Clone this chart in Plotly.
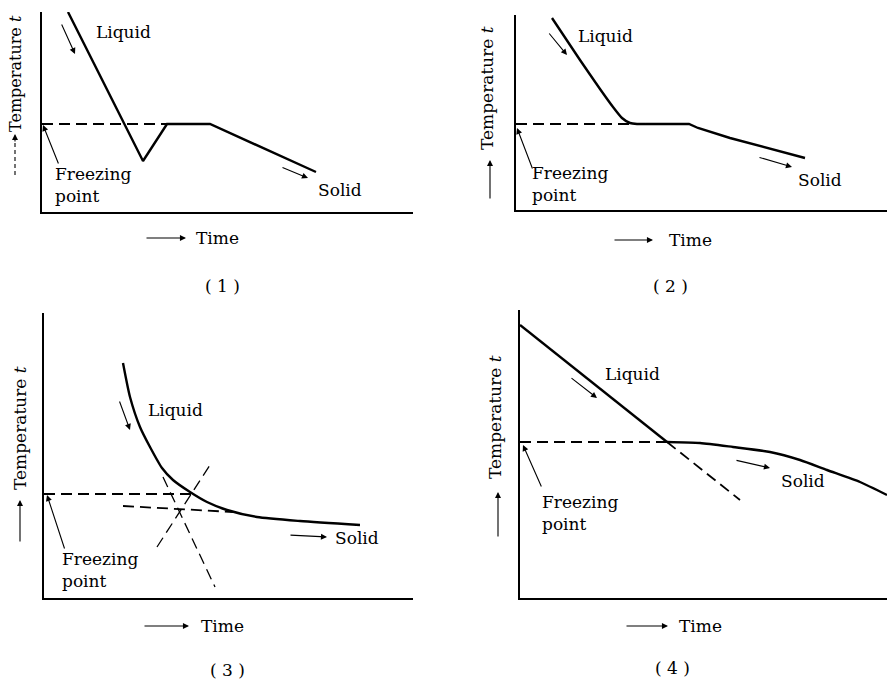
import plotly.graph_objects as go

W, H = 887, 679
FONT = dict(family="DejaVu Serif", size=17, color="black")

# ---------------- data (time, temperature in arbitrary units) ----------------
# Panel 1: supercooling then plateau
p1_time = [2.6, 10.1, 12.5, 16.8, 27.4]
p1_temp = [20.0, 5.1, 8.8, 8.8, 4.0]
p1_fp_time = [0, 12.5]
p1_fp_temp = [8.8, 8.8]

# Panel 2: smooth approach to plateau
p2_liq_time = [3.6, 6.4, 8.4, 9.7, 10.6, 11.4, 12.1, 13.0]
p2_liq_temp = [19.2, 15.0, 12.1, 10.3, 9.2, 8.7, 8.6, 8.6]
p2_sol_time = [13.0, 17.3, 18.2, 21.4, 28.9]
p2_sol_temp = [8.6, 8.6, 8.2, 7.2, 5.2]
p2_fp_time = [0, 12.0]
p2_fp_temp = [8.6, 8.6]

# Panel 3: curved cooling with tangent construction
p3_time = [7.9, 8.6, 9.6, 10.6, 11.8, 12.9, 14.6, 16.3, 18.3, 21.3, 25.6, 31.6]
p3_temp = [23.5, 20.1, 17.1, 15.1, 13.0, 11.8, 10.6, 9.6, 8.8, 8.1, 7.7, 7.3]
p3_fp_time = [0, 14.8]
p3_fp_temp = [10.4, 10.4]
p3_low_time = [7.9, 18.9]
p3_low_temp = [9.2, 8.6]
p3_steep_time = [11.9, 17.1]
p3_steep_temp = [12.1, 1.1]
p3_rise_time = [11.3, 16.6]
p3_rise_temp = [5.1, 13.3]

# Panel 4: liquid line then slowly falling solid curve
p4_liq_time = [0.0, 14.7]
p4_liq_temp = [27.3, 15.6]
p4_ext_time = [14.7, 22.0]
p4_ext_temp = [15.6, 9.8]
p4_fp_time = [0, 14.7]
p4_fp_temp = [15.6, 15.6]
p4_sol_time = [14.7, 18.0, 21.3, 25.0, 28.0, 30.7, 34.0, 36.7]
p4_sol_temp = [15.6, 15.5, 15.1, 14.6, 13.8, 12.8, 11.6, 10.3]

panel_labels = ["( 1 )", "( 2 )", "( 3 )", "( 4 )"]

# ---------------- layout helpers ----------------
# panel frames in pixels: (left, right, top, bottom)
frames = {1: (42, 413, 12, 212), 2: (516, 887, 15, 210),
          3: (44, 413, 313, 598), 4: (520, 887, 310, 598)}

fig = go.Figure()
DASH = "11px,6px"


def add_line(panel, x, y, width=2.4, dash=None, shape="linear", smoothing=0.6):
    suffix = "" if panel == 1 else str(panel)
    fig.add_trace(go.Scatter(
        x=x, y=y, mode="lines", xaxis="x" + suffix, yaxis="y" + suffix,
        line=dict(color="black", width=width, dash=dash, shape=shape,
                  smoothing=smoothing),
        hoverinfo="skip", showlegend=False, cliponaxis=False))


add_line(1, p1_time, p1_temp)
add_line(1, p1_fp_time, p1_fp_temp, width=1.8, dash=DASH)

add_line(2, p2_liq_time, p2_liq_temp, shape="spline", smoothing=0.5)
add_line(2, p2_sol_time, p2_sol_temp)
add_line(2, p2_fp_time, p2_fp_temp, width=1.8, dash=DASH)

add_line(3, p3_time, p3_temp, shape="spline", smoothing=0.6)
add_line(3, p3_fp_time, p3_fp_temp, width=1.8, dash=DASH)
add_line(3, p3_low_time, p3_low_temp, width=1.8, dash=DASH)
add_line(3, p3_steep_time, p3_steep_temp, width=1.3, dash=DASH)
add_line(3, p3_rise_time, p3_rise_temp, width=1.3, dash=DASH)

add_line(4, p4_liq_time, p4_liq_temp)
add_line(4, p4_ext_time, p4_ext_temp, width=1.8, dash=DASH)
add_line(4, p4_fp_time, p4_fp_temp, width=1.8, dash=DASH)
add_line(4, p4_sol_time, p4_sol_temp, shape="spline")

axis_style = dict(showline=True, linecolor="black", linewidth=2, showgrid=False,
                  zeroline=False, showticklabels=False, ticks="", fixedrange=True)
layout_axes = {}
for p, (l, r, t, b) in frames.items():
    suffix = "" if p == 1 else str(p)
    layout_axes["xaxis" + suffix] = dict(
        domain=[l / W, r / W], range=[0, (r - l) / 10],
        anchor="y" + suffix, **axis_style)
    layout_axes["yaxis" + suffix] = dict(
        domain=[1 - b / H, 1 - t / H], range=[0, (b - t) / 10],
        anchor="x" + suffix, **axis_style)

annotations = []


def text(px, py, s, anchor="center", angle=0, size=17):
    annotations.append(dict(x=px / W, y=1 - py / H, xref="paper", yref="paper",
                            text=s, showarrow=False, xanchor=anchor,
                            yanchor="middle", align="left", textangle=angle,
                            font=dict(FONT, size=size)))


def arrow(tx, ty, hx, hy, width=1.1):
    annotations.append(dict(x=hx / W, y=1 - hy / H, xref="paper", yref="paper",
                            ax=tx - hx, ay=ty - hy, text="", showarrow=True,
                            arrowhead=2, arrowsize=1.1, arrowwidth=width,
                            arrowcolor="black", standoff=0, startstandoff=0))


# Panel 1
text(123, 32, "Liquid")
arrow(61, 23, 75, 54)
text(53, 185, "Freezing<br>point", anchor="left")
arrow(59, 165, 43, 125)
text(340, 190, "Solid")
arrow(281, 167, 308, 178)
arrow(145, 238, 186, 238)
text(217, 238, "Time")
text(15, 74, "Temperature <i>t</i>", angle=-90, size=16)
arrow(15, 143, 15, 134)
text(222, 286, panel_labels[0])

# Panel 2
text(605, 36, "Liquid")
arrow(548, 32, 567, 55)
text(530, 184, "Freezing<br>point", anchor="left")
arrow(533, 170, 517, 128)
text(820, 180, "Solid")
arrow(758, 157, 792, 167)
arrow(613, 240, 653, 240)
text(690, 240, "Time")
text(487, 88, "Temperature <i>t</i>", angle=-90)
arrow(490, 200, 490, 160)
text(670, 286, panel_labels[1])

# Panel 3
text(175, 410, "Liquid")
arrow(119, 400, 130, 430)
text(60, 570, "Freezing<br>point", anchor="left")
arrow(65, 550, 47, 495)
text(357, 538, "Solid")
arrow(289, 535, 327, 537)
arrow(143, 626, 189, 626)
text(222, 626, "Time")
text(20, 428, "Temperature <i>t</i>", angle=-90)
arrow(20, 543, 20, 500)
text(227, 670, panel_labels[2])

# Panel 4
text(632, 374, "Liquid")
arrow(570, 377, 597, 398)
text(540, 513, "Freezing<br>point", anchor="left")
arrow(542, 488, 523, 445)
text(803, 481, "Solid")
arrow(735, 460, 770, 468)
arrow(625, 626, 668, 626)
text(700, 626, "Time")
text(495, 417, "Temperature <i>t</i>", angle=-90)
arrow(498, 538, 498, 492)
text(672, 668, panel_labels[3])

shapes = [dict(type="line", xref="paper", yref="paper",
               x0=15 / W, x1=15 / W, y0=1 - 175 / H, y1=1 - 143 / H,
               line=dict(color="black", width=1.1, dash="4px,3px"))]

fig.update_layout(
    width=W, height=H, autosize=False,
    margin=dict(l=0, r=0, t=0, b=0, pad=0),
    paper_bgcolor="white", plot_bgcolor="white",
    annotations=annotations, shapes=shapes, font=FONT,
    **layout_axes)

fig.write_html("out.html", config={"displayModeBar": False, "staticPlot": True},
               post_script="document.body.style.margin='0';")
